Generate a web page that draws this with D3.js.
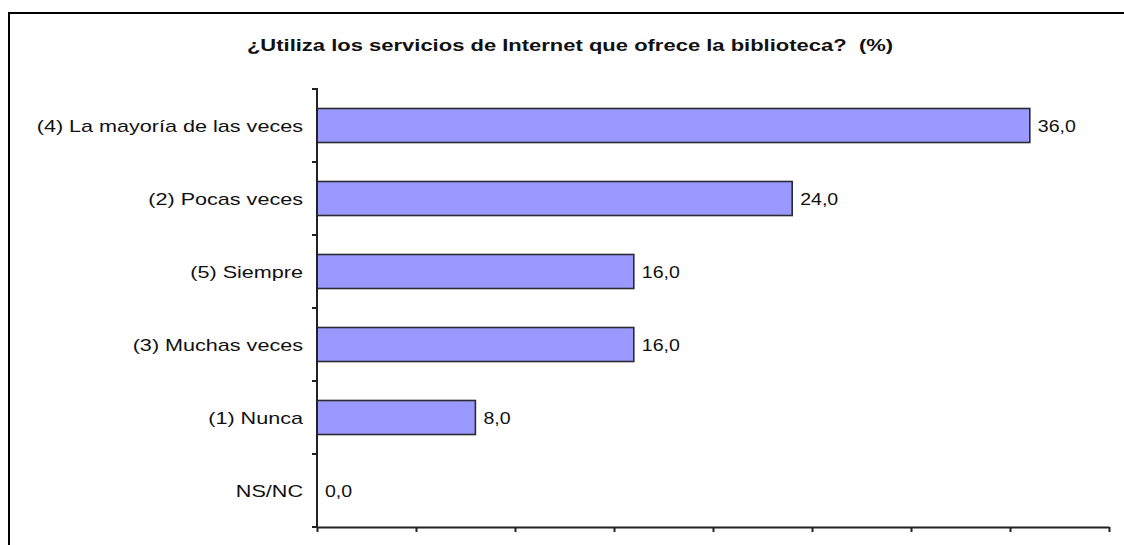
<html>
<head>
    <meta charset="utf-8">
    <title>Servicios de Internet</title>
    <script type="text/javascript" src="https://cdn.jsdelivr.net/npm/d3@7/dist/d3.min.js"></script>
    <style>
        body { margin: 0; background: white; }
        svg text { font-family: "Liberation Sans", Arial, sans-serif; fill: #111; white-space: pre; }
        .axis path, .axis line { stroke: #222; stroke-width: 2; }
    </style>
</head>
<body>
    <div id="chart"></div>

    <script>
        var title = "\u00bfUtiliza los servicios de Internet que ofrece la biblioteca?  (%)";
        var categories = ["(4) La mayor\u00eda de las veces", "(2) Pocas veces", "(5) Siempre",
                          "(3) Muchas veces", "(1) Nunca", "NS/NC"];
        var values = [36.0, 24.0, 16.0, 16.0, 8.0, 0.0];
        var x_ticks = [0, 5, 10, 15, 20, 25, 30, 35, 40];

        var width = 1124, height = 545;
        var plot = {left: 317, right: 1109, top: 89, bottom: 527};

        var svg = d3.select("#chart").append("svg")
                    .attr("width", width)
                    .attr("height", height);

        // outer frame (runs off the right and bottom of the picture)
        svg.append("rect")
            .attr("x", 9).attr("y", 13)
            .attr("width", width).attr("height", height)
            .attr("fill", "none")
            .attr("stroke", "black")
            .attr("stroke-width", 2);

        var x = d3.scaleLinear().domain([0, 40]).range([plot.left, plot.right]);
        var y = d3.scaleBand().domain(categories).range([plot.top, plot.bottom])
                  .paddingInner(0.534).paddingOuter(0.267);

        // text is drawn a bit wider than normal, like the original
        function stretched_text(px, py, txt, size, sx, anchor, weight)
        {
            return svg.append("g")
                .attr("transform", "translate(" + px + "," + py + ") scale(" + sx + ",1)")
                .append("text")
                .attr("text-anchor", anchor)
                .attr("font-size", size)
                .attr("font-weight", weight || "normal")
                .text(txt);
        }

        stretched_text(570, 51, title, 16, 1.375, "middle", "bold");

        // bars
        svg.append("g").selectAll("rect")
            .data(values)
            .join("rect")
            .attr("x", x(0))
            .attr("y", function(d, i){ return y(categories[i]); })
            .attr("width", function(d){ return x(d) - x(0); })
            .attr("height", y.bandwidth())
            .attr("fill", "#9999ff")
            .attr("stroke", "#2a2a33")
            .attr("stroke-width", 1.6)
            .style("display", function(d){ return d > 0 ? null : "none"; });

        // x axis, no labels
        svg.append("g")
            .attr("class", "axis")
            .attr("transform", "translate(0," + plot.bottom + ")")
            .call(d3.axisBottom(x).tickValues(x_ticks).tickSize(5).tickSizeOuter(0).tickFormat(""));

        // y axis with ticks between categories
        var yaxis = svg.append("g").attr("class", "axis");
        yaxis.append("line")
            .attr("x1", plot.left).attr("x2", plot.left)
            .attr("y1", plot.top - 1).attr("y2", plot.bottom);
        for (var i = 0; i <= categories.length; ++i)
        {
            var ty = plot.top + i * y.step();
            yaxis.append("line")
                .attr("x1", plot.left - 5).attr("x2", plot.left)
                .attr("y1", ty).attr("y2", ty);
        }

        // category labels
        for (var i = 0; i < categories.length; ++i)
        {
            var cy = y(categories[i]) + y.bandwidth() / 2 + 6;
            stretched_text(plot.left - 14, cy, categories[i], 17, 1.27, "end");
        }

        // value labels
        for (var i = 0; i < values.length; ++i)
        {
            var cy = y(categories[i]) + y.bandwidth() / 2 + 6;
            stretched_text(x(values[i]) + 8, cy, values[i].toFixed(1).replace(".", ","), 17, 1.15, "start");
        }
    </script>
</body>
</html>
